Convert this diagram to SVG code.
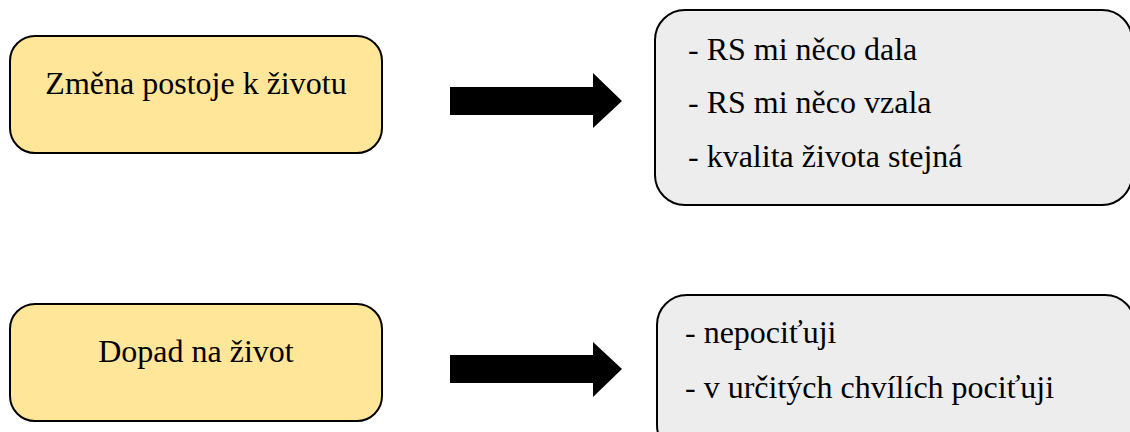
<svg xmlns="http://www.w3.org/2000/svg" width="1130" height="432" viewBox="0 0 1130 432">
<style>
.lbox{fill:#FFE699;stroke:#000;stroke-width:2}
.rbox{fill:#EDEDED;stroke:#000;stroke-width:2}
text{font-family:'Liberation Serif','Times New Roman','DejaVu Serif',serif;font-size:32px;fill:#000}
.c{text-anchor:middle}
.arr{fill:#000}
</style>
<rect width="1130" height="432" fill="#fff"/>
<g id="node-zmena">
<rect class="lbox" x="10" y="36" width="372" height="117" rx="25" ry="25"/>
<text class="c" x="196" y="94" font-family="Liberation Serif, serif">Změna postoje k životu</text>
</g>
<g id="node-zmena-detail">
<rect class="rbox" x="655" y="10" width="477" height="195" rx="30" ry="30"/>
<text x="688" y="60" font-family="Liberation Serif, serif">- RS mi něco dala</text>
<text x="688" y="113" font-family="Liberation Serif, serif">- RS mi něco vzala</text>
<text x="688" y="167" font-family="Liberation Serif, serif">- kvalita života stejná</text>
</g>
<g id="node-dopad">
<rect class="lbox" x="10" y="304" width="372" height="117" rx="25" ry="25"/>
<text class="c" x="196" y="362" font-family="Liberation Serif, serif">Dopad na život</text>
</g>
<g id="node-dopad-detail">
<rect class="rbox" x="657" y="295" width="478" height="160" rx="30" ry="30"/>
<text x="685" y="343" font-family="Liberation Serif, serif">- nepociťuji</text>
<text x="685" y="398" font-family="Liberation Serif, serif">- v určitých chvílích pociťuji</text>
</g>
<g id="connectors">
<polygon class="arr" points="450,87 593,87 593,73 622,101 593,128 593,115 450,115"/>
<polygon class="arr" points="450,355 593,355 593,342 622,369 593,397 593,383 450,383"/>
</g>
</svg>
